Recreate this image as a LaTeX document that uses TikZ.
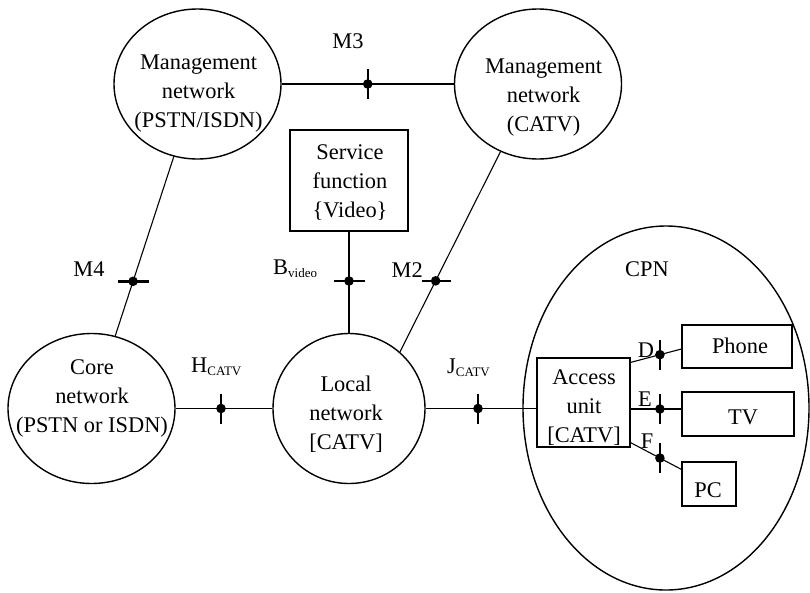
\documentclass[tikz,border=0pt]{standalone}
\usepackage{fontspec}
\setmainfont{Liberation Serif}
\usetikzlibrary{shapes.geometric,calc}
\newcommand{\lowsub}[1]{\raisebox{-3.5pt}{\fontsize{13}{13}\selectfont #1}}
\begin{document}
\begin{tikzpicture}[x=1pt,y=-1pt,
  txt/.style={font=\fontsize{22.4}{29}\selectfont, inner sep=0pt, align=center},
  oval/.style={draw, ellipse, line width=1.4pt, inner sep=0pt},
  boxn/.style={draw, rectangle, line width=1.2pt, inner sep=0pt},
  conn/.style={line width=1.1pt},
  tickm/.style={line width=2.5pt},
  dotr/.style={radius=4.8pt}]
\useasboundingbox (0,0) rectangle (810,592);
% ovals
\node[oval, minimum width=167pt, minimum height=150pt] (mgmtP) at (197.5,84) {};
\node[oval, minimum width=167pt, minimum height=150pt] (mgmtC) at (538,84) {};
\node[oval, minimum width=167pt, minimum height=150pt] (core) at (91.5,408.5) {};
\node[oval, minimum width=152pt, minimum height=150pt] (local) at (349,408.5) {};
\node[oval, minimum width=286pt, minimum height=364pt] (cpn) at (666,408) {};
% boxes
\node[boxn, minimum width=118pt, minimum height=101pt] (svc) at (349,180.5) {};
\node[boxn, minimum width=93pt, minimum height=89pt] (access) at (583.5,402.5) {};
\node[boxn, minimum width=110pt, minimum height=43pt] (phone) at (737,346.5) {};
\node[boxn, minimum width=112pt, minimum height=44pt] (tv) at (738,414) {};
\node[boxn, minimum width=54pt, minimum height=44pt] (pc) at (709,484) {};
% texts
\node[txt] (tmgmtP) at (198.5,93.5) {Management\\network\\(PSTN/ISDN)};
\node[txt] (tmgmtC) at (543.5,97.5) {Management\\network\\(CATV)};
\node[txt] (tcore) at (92,398) {Core\\network\\(PSTN or ISDN)};
\node[txt] (tlocal) at (346,414.5) {Local\\network\\{}[CATV]};
\node[txt] (tsvc) at (350,183) {Service\\function\\\{Video\}};
\node[txt] (taccess) at (584,408) {Access\\unit\\{}[CATV]};
\node[txt, anchor=base] (tphone) at (740,353) {Phone};
\node[txt, anchor=base] (ttv) at (743,424) {TV};
\node[txt, anchor=base] (tpc) at (708,497) {PC};
\node[txt, anchor=base] (tcpn) at (647,276) {CPN};
% connectors
\draw[conn] (mgmtP) -- (mgmtC);
\draw[conn] (mgmtP) -- (core);
\draw[conn] (mgmtC.241) -- (local.48);
\draw[conn] (svc) -- (local);
\draw[conn] (core) -- (local);
\draw[conn] (local.east) -- (local.east -| access.west);
\draw[conn] ([yshift=-5pt]access.north east) coordinate (d0) -- ([yshift=-2.5pt]phone.west) coordinate (d1);
\draw[conn] ([yshift=-6.5pt]access.east) coordinate (e0) -- (e0 -| tv.west) coordinate (e1);
\draw[conn] ([yshift=5pt]access.south east) coordinate (f0) -- ([yshift=-8pt]pc.north west) coordinate (f1);
% reference points
\coordinate (pM3) at ($(mgmtP.center)!0.5!(mgmtC.center)$);
\coordinate (pM4) at ($(mgmtP.center)!0.608!(core.center)$);
\coordinate (pM2) at ($(mgmtC.241)!0.645!(local.48)$);
\coordinate (pB) at (349,281);
\coordinate (pH) at (221,408.5);
\coordinate (pJ) at (478,408.5);
\coordinate (pD) at ($(d0)!0.577!(d1)$);
\coordinate (pE) at ($(e0)!0.577!(e1)$);
\coordinate (pF) at ($(f0)!0.577!(f1)$);
% ticks (vertical)
\foreach \p in {pM3,pH,pJ,pD,pE,pF}{
  \draw[tickm] ($(\p)+(0,-15)$) -- ($(\p)+(0,15)$);
  \fill (\p) circle[dotr];
}
% ticks (horizontal)
\foreach \p in {pM4,pB}{
  \draw[tickm] ($(\p)+(-15.5,0)$) -- ($(\p)+(15.5,0)$);
  \fill (\p) circle[dotr];
}
\draw[tickm] ($(pM2)+(-14,0)$) -- ($(pM2)+(15,0)$);
\fill (pM2) circle[dotr];
% labels
\node[txt, anchor=base] (lM3) at (348,48) {M3};
\node[txt, anchor=base] (lM4) at (89,276) {M4};
\node[txt, anchor=base east] (lM2) at (423,277) {M2};
\node[txt, anchor=base west] (lB) at (273,274) {B\lowsub{video}};
\node[txt, anchor=base west] (lH) at (191,372) {H\lowsub{CATV}};
\node[txt, anchor=base west] (lJ) at (447,373) {J\lowsub{CATV}};
\node[txt, anchor=base] (lD) at (646,357) {D};
\node[txt, anchor=base] (lE) at (645,406) {E};
\node[txt, anchor=base] (lF) at (647,448) {F};
\end{tikzpicture}
\end{document}
